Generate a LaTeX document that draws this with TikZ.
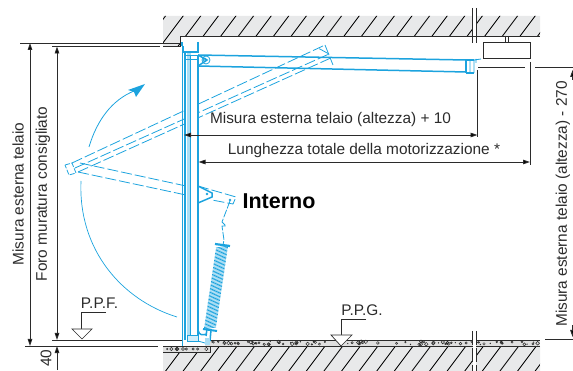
\documentclass[tikz,border=0pt]{standalone}
\usepackage{fontspec}
\setmainfont{Liberation Sans}
\usetikzlibrary{arrows.meta}
\definecolor{bl}{HTML}{1CA3DE}
\definecolor{lbl}{HTML}{A8DDF4}
\definecolor{wallg}{HTML}{E8E9EA}
\definecolor{ink}{HTML}{2B2B2B}
\tikzset{
 lab/.style={font=\fontsize{15.4}{17}\selectfont,text=ink,inner sep=0pt},
 dim/.style={draw=ink,line width=0.9pt},
 dimarr/.style={dim,{Triangle[length=7pt,width=4.5pt,fill=black]}-{Triangle[length=7pt,width=4.5pt,fill=black]}},
 dimend/.style={dim,-{Triangle[length=7pt,width=4.5pt,fill=black]}},
 hatchl/.style={draw=black,line width=0.85pt},
 bluel/.style={draw=bl,line width=1.5pt},
 bluet/.style={draw=bl,line width=0.8pt},
 bluedash/.style={draw=bl,line width=0.8pt,dash pattern=on 11pt off 3pt},
 level/.style={draw=ink,line width=0.7pt,fill=white,line join=miter},
}
\begin{document}
\begin{tikzpicture}[x=1pt,y=-1pt]
\useasboundingbox (0,0) rectangle (573,371);
% walls
\fill[wallg] (163,16) -- (540,16) -- (540,36) -- (180,36) -- (180,46) -- (163,46) -- cycle;
\fill[wallg] (163,352) -- (210,352) -- (210,346) -- (540,346) -- (540,371) -- (163,371) -- cycle;
\fill[gray!25] (163,346) rectangle (210,352);
\fill[gray!25] (205,340) rectangle (540,346);
\begin{scope}
\clip (163,16) -- (540,16) -- (540,36) -- (180,36) -- (180,46) -- (163,46) -- cycle;
\foreach \i in {0,...,24} \draw[hatchl] ({140+\i*17.6},50) -- ({140+\i*17.6+30},10);
\end{scope}
\begin{scope}
\clip (163,352) -- (210,352) -- (210,346) -- (540,346) -- (540,371) -- (163,371) -- cycle;
\foreach \i in {0,...,25} \draw[hatchl] ({145+\i*17.6},375) -- ({145+\i*17.6+24},343);
\end{scope}
% concrete speckle
\pgfmathsetseed{7}
\foreach \i in {1,...,70}{
 \pgfmathsetmacro{\px}{212+rnd*326}
 \pgfmathsetmacro{\py}{341.5+rnd*3}
 \pgfmathsetmacro{\pr}{0.7+rnd*1.2}
 \draw[ink,line width=0.5pt] (\px,\py) circle[radius=\pr];
}
\foreach \i in {1,...,25}{
 \pgfmathsetmacro{\px}{212+rnd*326}
 \pgfmathsetmacro{\py}{341.5+rnd*3}
 \fill[ink] (\px,\py) circle[radius=0.7];
}
\foreach \i in {1,...,10}{
 \pgfmathsetmacro{\px}{165+rnd*44}
 \pgfmathsetmacro{\pr}{0.7+rnd*1.2}
 \draw[ink,line width=0.5pt] (\px,349) circle[radius=\pr];
}
% wall outlines
\draw[ink,line width=0.9pt] (163,46) -- (180,46) -- (180,36) -- (540,36);
\draw[ink,line width=0.9pt] (163,346) -- (210,346) -- (210,352) -- (163,352);
\draw[ink,line width=0.9pt] (210,340) -- (540,340) (210,346) -- (540,346);
% break lines
\fill[white] (473,8) rectangle (476,36);
\fill[white] (473,340) rectangle (476,371);
\draw[ink,line width=0.7pt] (472.5,8) -- (472.5,43) (476.5,8) -- (476.5,43);
\draw[ink,line width=0.7pt,dash pattern=on 14pt off 3pt] (472.5,331) -- (472.5,371) (476.5,331) -- (476.5,371);
% motor
\draw[ink,line width=0.7pt] (505,36) -- (505,42) (508,36) -- (508,42);
\draw[ink,line width=0.9pt,fill=white] (483,42) rectangle (530,58);
% dashed open door
\draw[bluedash] (72,163) -- (325,45);
\draw[bluedash] (75,168) -- (329,54);
\draw[bluedash] (78,172) -- (333,57);
\draw[bluedash] (325,45) -- (333,65);
\draw[bluedash] (329,54) -- (318,48);
\draw[bluedash,dash pattern=on 5pt off 1.5pt] (65,165) -- (72,163) -- (76,173) -- (69,175) -- cycle;
\draw[bluedash] (80,163) -- (186,186);
\draw[bluedash] (78,172) -- (186,195);
% door frame
\fill[white] (185,52) rectangle (198,335);
\fill[lbl] (187,52) rectangle (191,340);
\draw[bluel] (182.5,52) -- (182.5,346);
\draw[bluel] (185,52) -- (185,340);
\draw[bluet] (190,55) -- (190,335);
\draw[bluel] (198,55) -- (198,335);
\draw[bluel] (183,46) -- (183,52) -- (198,52) -- (198,46);
\draw[bluel,line width=1.8pt] (182,42) -- (182,46) (198,42) -- (198,46);
\draw[bluet] (186,55) -- (198,55) (186,59) -- (198,59);
\draw[bluet,fill=lbl!50] (187,335) rectangle (198,341);
\draw[bluet] (198,341) -- (205,343);
% closed arm
\draw[bluel] (198,55) -- (466,60);
\draw[bluel] (198,66) -- (466,72);
\draw[bluel] (198,55) -- (207,60) -- (198,66);
\draw[bluet] (206,60) circle[radius=4];
\draw[bluet] (205,60) circle[radius=1.8];
\draw[bluel] (466,60) -- (474,60) (466,73) -- (474,73) (466,60) -- (466,73);
\draw[bluet] (470,60) -- (470,73) (474,60) -- (474,73) (474,60) -- (481,59) (476,59) -- (476,63);
% bracket at side
\draw[bluel] (198,186) -- (212,193) -- (212,197) -- (198,203);
\draw[bluedash] (198,186) -- (236,197) -- (233,204) -- (212,200);
\fill[bl] (207,194) circle[radius=1.4];
\fill[bl] (230,200) circle[radius=1.4];
% hook
\draw[bluet,dash pattern=on 8pt off 1.5pt] (230,201) -- (222,222) -- (226,226) -- (222,226) -- (224,240) -- (223,245);
% spring
\foreach \i in {0,...,58}{
 \pgfmathsetmacro{\t}{\i/58}
 \pgfmathsetmacro{\cx}{222+\t*(210-222)}
 \pgfmathsetmacro{\cy}{247+\t*(328-247)}
 \draw[bl,line width=0.7pt] ({\cx-6},{\cy+1}) -- ({\cx+6},{\cy-1});
}
\draw[bl,line width=2.2pt] (215,244) -- (230,246);
\draw[bl,line width=2pt] (203,329) -- (217,331);
\draw[bluel] (198,330) .. controls (199,336) and (203,335) .. (207,334) (207,329) -- (206,336) (211,330) -- (210,341);
\fill[lbl] (205,338) rectangle (210,345);
% arcs
\draw[bl,line width=0.8pt] (89,147) .. controls (97,120) and (112,100) .. (134,91);
\fill[bl] (145,84) -- (128,90) -- (134,92) -- (136,97) -- cycle;
\draw[bl,line width=0.7pt] (81,181) .. controls (78,250) and (122,300) .. (177,317);
% dimension construction lines
\draw[dim] (20,43) -- (180,43);
\draw[dim] (52,46.5) -- (160,46.5);
\draw[dim] (25,346) -- (158,346);
\draw[dim] (52,340) -- (182,340);
\draw[dimarr] (30,43) -- (30,346);
\draw[dimarr] (57,46.5) -- (57,340);
\draw[dimend] (57,370) -- (57,346);
\draw[dim] (478,67) -- (525,67);
\draw[dim] (535,67) -- (573,67);
\draw[dim] (545,339) -- (573,339);
\draw[dim] (477.5,70) -- (477.5,137);
\draw[dim] (530,62) -- (530,165);
\draw[dimarr] (184,135) -- (477.5,135);
\draw[dimarr] (198.5,162) -- (530,162);
\draw[dimend] (572.5,80) -- (572.5,70);
\draw[dimend] (572.5,325) -- (572.5,337);
% levels
\draw[level,fill=none] (106,312) -- (81.5,312) -- (81.5,329);
\draw[level] (72,329) -- (92,329) -- (82,339) -- cycle;
\draw[level,fill=none] (366,319) -- (341,319) -- (341,335);
\draw[level] (331,335) -- (352,335) -- (341,346) -- cycle;
% labels
\node[lab,rotate=90] (l1) at (18,194) {Misura esterna telaio};
\node[lab,rotate=90] (l2) at (43,194) {Foro muratura consigliato};
\node[lab,rotate=90] (l3) at (46,358) {40};
\node[lab,rotate=90] (l4) at (563,204) {Misura esterna telaio (altezza) - 270};
\node[lab] (l5) at (330.5,120) {Misura esterna telaio (altezza) + 10};
\node[lab] (l6) at (364,151) {Lunghezza totale della motorizzazione *};
\node[lab] (l7) at (99.5,303) {P.P.F.};
\node[lab] (l8) at (362,310) {P.P.G.};
\node[inner sep=0pt,text=black,font=\fontsize{21.5}{23}\selectfont\bfseries] (l9) at (279,201) {Interno};
\end{tikzpicture}
\end{document}
